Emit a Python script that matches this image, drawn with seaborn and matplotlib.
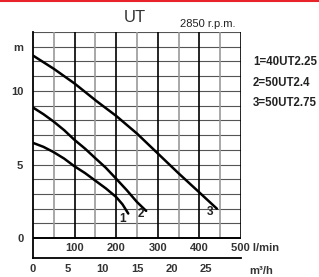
import pandas as pd
import seaborn as sns
import matplotlib.pyplot as plt
from matplotlib.lines import Line2D

# curve data: flow in l/min, head in m
q1 = [0, 25, 49, 75, 99, 125, 149, 175, 200, 215, 229]
h1 = [6.47, 6.2, 5.85, 5.4, 4.89, 4.42, 3.92, 3.38, 2.79, 2.3, 1.67]
q2 = [0, 25, 49, 75, 99, 125, 149, 175, 200, 225, 250, 272]
h2 = [8.87, 8.42, 7.93, 7.33, 6.69, 6.08, 5.45, 4.78, 4.03, 3.27, 2.45, 1.85]
q3 = [0, 50, 100, 153, 200, 250, 300, 350, 400, 442]
h3 = [12.4, 11.5, 10.5, 9.3, 8.3, 7.1, 5.75, 4.4, 3.1, 2.0]
models = ['1=40UT2.25', '2=50UT2.4', '3=50UT2.75']
lmin_ticks = [100, 200, 300, 400]
m3h_ticks = [0, 5, 10, 15, 20, 25]

df = pd.concat([
    pd.DataFrame({'Q': q1, 'H': h1, 'pump': '1'}),
    pd.DataFrame({'Q': q2, 'H': h2, 'pump': '2'}),
    pd.DataFrame({'Q': q3, 'H': h3, 'pump': '3'}),
])

sns.set_style('white')
plt.rcParams['font.family'] = ['Liberation Sans', 'DejaVu Sans']

fig = plt.figure(figsize=(3.19, 2.77), dpi=100)
ax = fig.add_axes([33 / 319, 1 - 258 / 277, 208 / 319, 226 / 277])

# grid
for h in range(1, 15):
    ax.plot([0, 500], [h, h], color='#555555', lw=0.8, zorder=1)
for q in range(50, 500, 100):
    ax.plot([q, q], [0, 14], color='#9a9a9a', lw=1.2, zorder=1)
for q in lmin_ticks + [500]:
    ax.plot([q, q], [0, 14], color='black', lw=1.2, zorder=2)
ax.plot([0, 500], [0, 0], color='black', lw=1.4, zorder=2)

sns.lineplot(data=df, x='Q', y='H', units='pump', estimator=None,
             color='black', lw=1.8, ax=ax, zorder=3, legend=False)

for lab, (q, h) in zip(['1', '2', '3'], [(216, 1.3), (260, 1.65), (426, 1.75)]):
    ax.text(q, h, lab, fontsize=8.5, fontweight='bold', ha='center', va='center', color='#222222')

ax.set_xlim(0, 500)
ax.set_ylim(-1.35, 14)
for s in ['top', 'right']:
    ax.spines[s].set_visible(False)
for s in ['left', 'bottom']:
    ax.spines[s].set_color('black')
    ax.spines[s].set_linewidth(1.3)

ax.set_xticks([t * 1000 / 60 for t in m3h_ticks])
ax.set_xticklabels([str(t) for t in m3h_ticks], fontsize=8, fontweight='bold', color='#333333')
ax.tick_params(axis='x', direction='in', length=2, width=1, pad=4)
ax.set_yticks([0, 5, 10, 13])
ax.set_yticklabels(['0', '5', '10', 'm'], fontsize=8, fontweight='bold', color='#333333')
ax.tick_params(axis='y', length=0, pad=7)
ax.set_xlabel('')
ax.set_ylabel('')

for q in lmin_ticks:
    ax.text(q, -0.7, str(q), fontsize=8, fontweight='bold', color='#333333', ha='center', va='center')
ax.text(477, -0.7, '500 l/min', fontsize=8, fontweight='bold', color='#333333', ha='left', va='center', clip_on=False)
ax.text(520, -2.2, 'm³/h', fontsize=8, fontweight='bold', color='#333333', ha='left', va='center', clip_on=False)

fig.text(135 / 319, 1 - 18 / 277, 'UT', fontsize=12, color='#333333', ha='center', va='center')
fig.text(208 / 319, 1 - 24 / 277, '2850 r.p.m.', fontsize=8, color='#222222', ha='center', va='center')
for i, m in enumerate(models):
    fig.text(253 / 319, 1 - (62 + 20.5 * i) / 277, m, fontsize=8.3, fontweight='bold', color='#222222', ha='left', va='center')

fig.add_artist(Line2D([0, 1], [1 - 0.6 / 277, 1 - 0.6 / 277], color='#e8232a', lw=1.5, transform=fig.transFigure))

fig.savefig('out.png', dpi=100)
